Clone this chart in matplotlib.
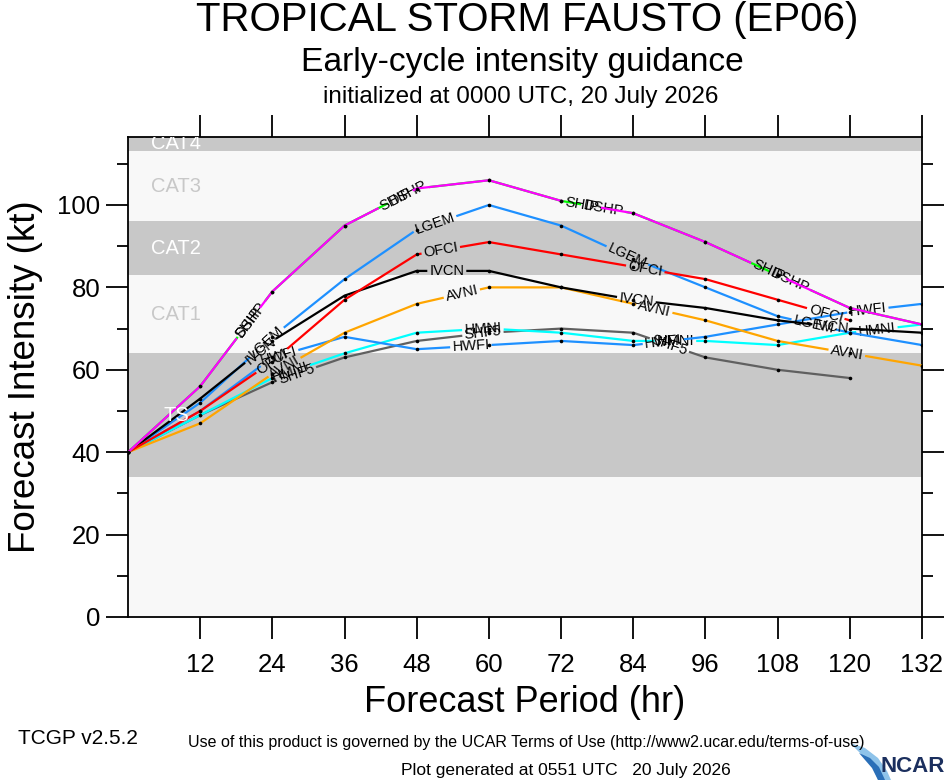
import numpy as np
import matplotlib
matplotlib.use('Agg')
import matplotlib.pyplot as plt
from matplotlib.patches import Polygon

plt.rcParams['font.family'] = ['Liberation Sans', 'DejaVu Sans']

# ---------------- data ----------------
hours = [0, 12, 24, 36, 48, 60, 72, 84, 96, 108, 120, 132]
nan = np.nan
SHF5 = [40, 49, 57, 63, 67, 69, 70, 69, 63, 60, 58, nan]
HMNI = [40, 49, 58, 64, 69, 70, 69, 67, 67, 66, 69, 71]
HWFI = [40, 50, 63, 68, 65, 66, 67, 66, 68, 71, 74, 76]
AVNI = [40, 47, 59, 69, 76, 80, 80, 76, 72, 67, 64, 61]
LGEM = [40, 52, 68, 82, 94, 100, 95, 87, 80, 73, 69, 66]
IVCN = [40, 53, 67, 78, 84, 84, 80, 77, 75, 72, 70, 69]
OFCI = [40, 50, 62, 77, 88, 91, 88, 85, 82, 77, 72, nan]
DSHP = [40, 56, 79, 95, 104, 106, 101, 98, 91, 83, 75, 71]
SHIP = [40, 56, 79, 95, 104, 106, 101, 98, 91, 83, 75, 71]

models = ['SHF5', 'HMNI', 'HWFI', 'AVNI', 'LGEM', 'IVCN', 'OFCI', 'DSHP', 'SHIP']
series = [SHF5, HMNI, HWFI, AVNI, LGEM, IVCN, OFCI, DSHP, SHIP]
colors = ['#606060', '#00ffff', '#1e90ff', '#ffa500', '#1e90ff', '#000000',
          '#ff0000', '#00ff00', '#ff00ff']
label_hours = [[28, 59, 90],
               [27, 59, 91, 124.5],
               [25, 57, 89, 123],
               [26, 55.5, 87.5, 119.5],
               [23, 51, 83, 114],
               [22, 53, 84.5, 117],
               [24, 52, 86, 116],
               [20.5, 46.5, 79, 110],
               [20, 44.5, 75.5, 106.5]]

band_edges = [0, 34, 64, 83, 96, 113, 137]
band_colors = ['#f8f8f8', '#c8c8c8', '#f8f8f8', '#c8c8c8', '#f8f8f8', '#c8c8c8']
cat_names = ['TS', 'CAT1', 'CAT2', 'CAT3', 'CAT4']
cat_y = [49, 73.5, 89.5, 104.5, 114.9]
cat_colors = ['white', '#c8c8c8', 'white', '#c8c8c8', 'white']

xticks = list(range(12, 133, 12))
yticks = list(range(0, 101, 20))
yminor = list(range(10, 111, 20))

# ---------------- figure ----------------
W, H = 946, 780
fig = plt.figure(figsize=(W / 100, H / 100), dpi=100)
fig.patch.set_facecolor('white')
ax = fig.add_axes([128 / W, 1 - 617 / H, 794 / W, 480 / H])
ax.set_xlim(0, 132)
ax.set_ylim(0, 116.5)

for i in range(len(band_colors)):
    ax.axhspan(band_edges[i], band_edges[i + 1], color=band_colors[i], lw=0, zorder=0)
for name, y, c in zip(cat_names, cat_y, cat_colors):
    ax.text(8, y, name, ha='center', va='center', fontsize=14.5, color=c,
            zorder=30, clip_on=True)

renderer = fig.canvas.get_renderer()
LFS = 10.5


def labeled_line(hrs, vals, color, name, lhours, z):
    h = np.array(hrs, float)
    v = np.array(vals, float)
    m = ~np.isnan(v)
    h, v = h[m], v[m]
    P = ax.transData.transform(np.column_stack([h, v]))
    seg = np.hypot(np.diff(P[:, 0]), np.diff(P[:, 1]))
    s = np.concatenate([[0], np.cumsum(seg)])
    gaps = []
    for lh in lhours:
        xd = ax.transData.transform((lh, 0))[0]
        sc = np.interp(xd, P[:, 0], s)
        i = int(np.clip(np.searchsorted(s, sc) - 1, 0, len(seg) - 1))
        d = P[i + 1] - P[i]
        ang = np.degrees(np.arctan2(d[1], d[0]))
        px = np.interp(sc, s, P[:, 0])
        py = np.interp(sc, s, P[:, 1])
        xy = ax.transData.inverted().transform((px, py))
        t = ax.text(xy[0], xy[1], name, ha='center', va='center', fontsize=LFS,
                    color='black', zorder=z + 0.6, rotation_mode='anchor')
        w = t.get_window_extent(renderer).width
        t.set_rotation(ang)
        gaps.append((sc - w / 2 - 2, sc + w / 2 + 2))
    gaps.sort()
    pieces = []
    start = 0.0
    for a, b in gaps:
        if a > start:
            pieces.append((start, min(a, s[-1])))
        start = max(start, b)
    if start < s[-1]:
        pieces.append((start, s[-1]))
    for a, b in pieces:
        if b <= a:
            continue
        ss = np.concatenate([[a], s[(s > a) & (s < b)], [b]])
        pts = np.column_stack([np.interp(ss, s, P[:, 0]), np.interp(ss, s, P[:, 1])])
        dd = ax.transData.inverted().transform(pts)
        ax.plot(dd[:, 0], dd[:, 1], color=color, lw=1.6, zorder=z,
                solid_capstyle='butt')
    ax.plot(h, v, 'o', ms=2.6, color='black', zorder=z + 0.3, mew=0)


for k, (name, vals, col, lh) in enumerate(zip(models, series, colors, label_hours)):
    labeled_line(hours, vals, col, name, lh, 2 + k)

ax.set_xticks(xticks)
ax.set_yticks(yticks)
ax.set_yticks(yminor, minor=True)
ax.tick_params(axis='both', which='major', direction='out', length=16, width=1.3,
               top=True, right=True, labeltop=False, labelright=False,
               labelsize=18.5, color='black')
ax.tick_params(axis='y', which='minor', direction='out', length=8, width=1.3,
               left=True, right=True)
ax.tick_params(axis='x', which='minor', bottom=False, top=False)
ax.tick_params(axis='x', pad=10)
ax.tick_params(axis='y', pad=4)
for sp in ax.spines.values():
    sp.set_linewidth(1.3)

ax.set_xlabel('Forecast Period (hr)', fontsize=26, labelpad=6)
ax.set_ylabel('Forecast Intensity (kt)', fontsize=26.5, labelpad=10)

# ---------------- titles and footer ----------------
fig.text(527 / W, 1 - 20 / H, 'TROPICAL STORM FAUSTO (EP06)', ha='center', va='center',
         fontsize=29)
fig.text(522 / W, 1 - 62 / H, 'Early-cycle intensity guidance', ha='center', va='center',
         fontsize=24.2)
fig.text(521 / W, 1 - 97 / H, 'initialized at 0000 UTC, 20 July 2026', ha='center',
         va='center', fontsize=17.5)

narrow = ['Liberation Sans Narrow', 'Liberation Sans', 'DejaVu Sans']
fig.text(526 / W, 1 - 742 / H,
         'Use of this product is governed by the UCAR Terms of Use (http://www2.ucar.edu/terms-of-use)',
         ha='center', va='center', fontsize=11.5, family=narrow)
fig.text(18 / W, 1 - 739 / H, 'TCGP v2.5.2', ha='left', va='center', fontsize=15,
         family=narrow)
fig.text(566 / W, 1 - 771 / H, 'Plot generated at 0551 UTC   20 July 2026', ha='center',
         va='center', fontsize=12.5, family=narrow)

# NCAR logo
def fpx(pts):
    return [(x / W, 1 - y / H) for x, y in pts]

fig.patches.append(Polygon(fpx([(850, 743), (865, 748), (878, 758), (887, 771), (891, 780),
                                (878, 780), (873, 768), (864, 757)]),
                           closed=True, transform=fig.transFigure, color='#8ec3ea', lw=0))
fig.patches.append(Polygon(fpx([(859, 753), (870, 758), (879, 767), (885, 780),
                                (878, 780), (872, 768)]),
                           closed=True, transform=fig.transFigure, color='#2a6fb8', lw=0))
fig.text(945 / W, 1 - 766 / H, 'NCAR', ha='right', va='center', fontsize=16,
         fontweight='bold', color='#1b2f5e')

fig.savefig('out.png', dpi=100)
